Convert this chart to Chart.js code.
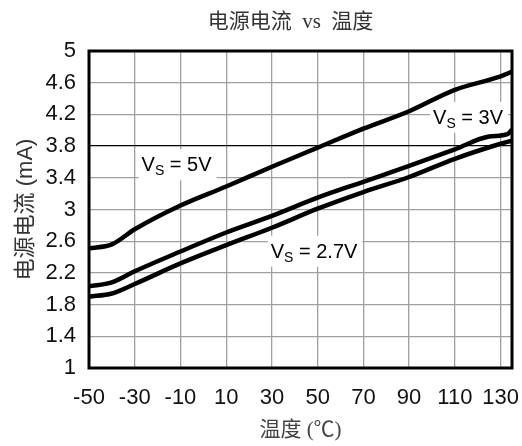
<!DOCTYPE html>
<html>
<head>
<meta charset="utf-8">
<script src="https://cdn.jsdelivr.net/npm/chart.js@4/dist/chart.umd.min.js"></script>
<style>
  body { margin: 0; background: #fff; }
  #graphCanvas { display: block; }
</style>
</head>
<body>
<canvas id="graphCanvas" width="522" height="446"></canvas>
<script>
// Temperatures (°C) and supply current (mA)
const temps5V = [-50, -40, -30, -10, 10, 30, 50, 70, 90, 110, 130, 135];
const current5V = [2.51, 2.56, 2.75, 3.05, 3.29, 3.54, 3.78, 4.02, 4.24, 4.51, 4.68, 4.74];

const temps3V = [-50, -40, -30, -10, 10, 30, 50, 70, 90, 110, 125, 133, 135];
const current3V = [2.03, 2.08, 2.22, 2.47, 2.71, 2.92, 3.15, 3.35, 3.55, 3.76, 3.92, 3.95, 4.01];

const temps27V = [-50, -40, -30, -10, 10, 30, 50, 70, 90, 110, 130, 135];
const current27V = [1.90, 1.94, 2.06, 2.32, 2.55, 2.77, 3.01, 3.22, 3.41, 3.64, 3.83, 3.87];

const xTickValues = [-50, -30, -10, 10, 30, 50, 70, 90, 110, 130];
const yTickValues = [1, 1.4, 1.8, 2.2, 2.6, 3, 3.4, 3.8, 4.2, 4.6, 5];

const chartTitle = '电源电流  vs  温度';
const xTitle = '温度 (℃)';
const yTitle = '电源电流 (mA)';

// Curve annotations: Vs = ...
const noteTemps = [-27, 29.5, 100.5];
const noteCurrents = [3.57, 2.48, 4.17];
const noteValues = ['5V', '2.7V', '3V'];

function toPoints(xs, ys) {
    return xs.map((x, i) => ({ x: x, y: ys[i] }));
}

const sansFont = "'Liberation Sans', Arial, sans-serif";
const tickFont = "'Liberation Sans Narrow', 'Arial Narrow', 'Liberation Sans', sans-serif";
const cjkSans = "'Liberation Sans', 'Noto Sans CJK SC', sans-serif";
const cjkSerif = "'Liberation Serif', 'Noto Sans CJK SC', serif";

// Title drawn a little left of the plot centre, as in the original
const titlePlugin = {
    id: 'topTitle',
    afterDraw(chart) {
        const a = chart.chartArea;
        const ctx = chart.ctx;
        ctx.save();
        ctx.font = '21px ' + cjkSerif;
        ctx.fillStyle = '#333';
        ctx.textAlign = 'center';
        ctx.textBaseline = 'middle';
        ctx.fillText(chartTitle, (a.left + a.right) / 2 - 10, 22);
        ctx.restore();
    }
};

// White-boxed "V_S = ..." labels, drawn under the curves
const notesPlugin = {
    id: 'notes',
    beforeDatasetsDraw(chart) {
        const ctx = chart.ctx;
        const xs = chart.scales.x, ys = chart.scales.y;
        ctx.save();
        noteValues.forEach((val, i) => {
            const px = xs.getPixelForValue(noteTemps[i]);
            const py = ys.getPixelForValue(noteCurrents[i]);
            ctx.font = '20px ' + sansFont;
            const wV = ctx.measureText('V').width;
            const rest = ' = ' + val;
            const wRest = ctx.measureText(rest).width;
            ctx.font = '14px ' + sansFont;
            const wS = ctx.measureText('S').width;
            const total = wV + wS + wRest;

            ctx.fillStyle = '#fff';
            ctx.fillRect(px - 3, py - 15, total + 8, 31);

            const base = py + 7;
            ctx.fillStyle = '#000';
            ctx.textBaseline = 'alphabetic';
            ctx.textAlign = 'left';
            ctx.font = '20px ' + sansFont;
            ctx.fillText('V', px, base);
            ctx.font = '14px ' + sansFont;
            ctx.fillText('S', px + wV, base + 4);
            ctx.font = '20px ' + sansFont;
            ctx.fillText(rest, px + wV + wS, base);
        });
        ctx.restore();
    }
};

// Heavy frame round the plot area
const framePlugin = {
    id: 'frame',
    afterDatasetsDraw(chart) {
        const a = chart.chartArea;
        const ctx = chart.ctx;
        ctx.save();
        ctx.strokeStyle = '#000';
        ctx.lineWidth = 3;
        ctx.strokeRect(a.left, a.top, a.right - a.left, a.bottom - a.top);
        ctx.restore();
    }
};

function lineSet(label, data) {
    return {
        label: label,
        data: data,
        borderColor: '#000',
        borderWidth: 4.5,
        pointRadius: 0,
        fill: false,
        cubicInterpolationMode: 'monotone'
    };
}

const ctx = document.getElementById('graphCanvas').getContext('2d');
const chart = new Chart(ctx, {
    type: 'line',
    data: {
        datasets: [
            lineSet('Vs = 5V', toPoints(temps5V, current5V)),
            lineSet('Vs = 3V', toPoints(temps3V, current3V)),
            lineSet('Vs = 2.7V', toPoints(temps27V, current27V))
        ]
    },
    options: {
        responsive: false,
        animation: false,
        layout: { padding: { top: 51, right: 10, bottom: 0, left: 0 } },
        plugins: {
            legend: { display: false },
            tooltip: { enabled: false },
            title: { display: false }
        },
        scales: {
            x: {
                type: 'linear',
                min: -50,
                max: 135,
                afterBuildTicks(scale) {
                    scale.ticks = xTickValues.map(v => ({ value: v }));
                },
                afterFit(scale) {
                    scale.height = 78;
                    scale.paddingLeft = 0;
                    scale.paddingRight = 0;
                },
                ticks: {
                    color: '#111',
                    font: { family: tickFont, size: 22 },
                    padding: 17,
                    maxRotation: 0,
                    callback: v => String(v)
                },
                grid: {
                    color: '#a0a0a0',
                    lineWidth: 1.3,
                    drawTicks: false
                },
                border: { display: false },
                title: {
                    display: true,
                    text: xTitle,
                    color: '#444',
                    font: { family: cjkSerif, size: 21 },
                    padding: { top: 0, bottom: 3 }
                }
            },
            y: {
                min: 1,
                max: 5,
                afterBuildTicks(scale) {
                    scale.ticks = yTickValues.map(v => ({ value: v }));
                },
                afterFit(scale) {
                    scale.width = 89;
                    scale.paddingTop = 0;
                    scale.paddingBottom = 0;
                },
                ticks: {
                    color: '#111',
                    font: { family: tickFont, size: 22 },
                    padding: 13,
                    callback: v => String(v)
                },
                grid: {
                    color: function(context) {
                        if (context.tick && context.tick.value === 3.8) {
                            return '#000'; // this line is printed black
                        }
                        return '#a0a0a0';
                    },
                    lineWidth: 1.3,
                    drawTicks: false
                },
                border: { display: false },
                title: {
                    display: true,
                    text: yTitle,
                    color: '#333',
                    font: { family: cjkSans, size: 22 },
                    padding: { top: 13, bottom: 0 }
                }
            }
        }
    },
    plugins: [notesPlugin, framePlugin, titlePlugin]
});
</script>
</body>
</html>
